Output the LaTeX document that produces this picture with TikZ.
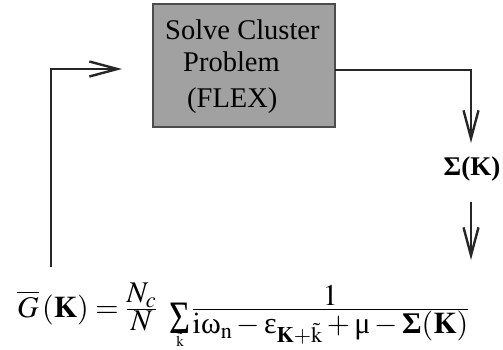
\documentclass[tikz,border=0pt]{standalone}
\usepackage{amsmath}
\usepackage{graphicx}
\usepackage{mathptmx}
\usepackage{fontspec}
\setmainfont{Liberation Serif}
\usetikzlibrary{arrows.meta}
\newcommand{\tightfrac}[2]{\frac{\displaystyle #1}{\displaystyle #2}}
\tikzset{
  conn/.style={line width=1.6pt, draw=black!85},
  tip/.style={-{Straight Barb[length=28pt,width=15pt,line width=2.4pt]}},
  clusterbox/.style={draw=black!70, line width=1.4pt, fill=black!37},
  boxtext/.style={inner sep=0pt, font=\rmfamily\fontsize{28.5}{30}\selectfont},
}
\begin{document}
\begin{tikzpicture}[x=1pt,y=-1pt]
\useasboundingbox (0,0) rectangle (503,349);
% box
\draw[clusterbox] (153,4) rectangle (335,127);
\coordinate (boxR) at (335,70);
\node[boxtext, anchor=base west] (t1) at (165,39) {Solve Cluster};
\node[boxtext, anchor=base west] (t2) at (183,71) {Problem};
\node[boxtext, anchor=base west] (t3) at (187,107) {(FLEX)};
% sigma label
\node[inner sep=0pt, font=\rmfamily\fontsize{27}{29}\selectfont\bfseries] (sig) at (472,169) {Σ(K)};
% formula
\node[inner sep=0pt, anchor=base west, font=\rmfamily\fontsize{30}{33}\selectfont] (form) at (17,317)
 {$\overline{G}\,(\mathbf{K}) = \tightfrac{N_c}{N}\hspace{34pt}\tightfrac{1}{\mathrm{i}\text{ω}_{\mathrm{n}} - \text{ε}_{\mathbf{K}+\tilde{\mathrm{k}}} + \text{μ} - \textbf{Σ}(\mathbf{K})}$};
\node[inner sep=0pt, anchor=base, xscale=1.2, yscale=1.55, font=\rmfamily\fontsize{30}{33}\selectfont] (sumsign) at (180,333) {Σ};
\node[inner sep=0pt, anchor=base, font=\rmfamily\fontsize{15}{16}\selectfont] (sumidx) at (180,346) {$\tilde{\mathrm{k}}$};
% connectors
\coordinate (lstart) at (51,267);
\coordinate (ltip) at (122,69);
\draw[conn, tip] (lstart) |- (ltip);
\coordinate (rtip) at (471,143);
\draw[conn, tip] (boxR) -| (rtip);
\coordinate (s2a) at (471,202);
\coordinate (s2b) at (471,260);
\draw[conn, tip] (s2a) -- (s2b);
\end{tikzpicture}
\end{document}
